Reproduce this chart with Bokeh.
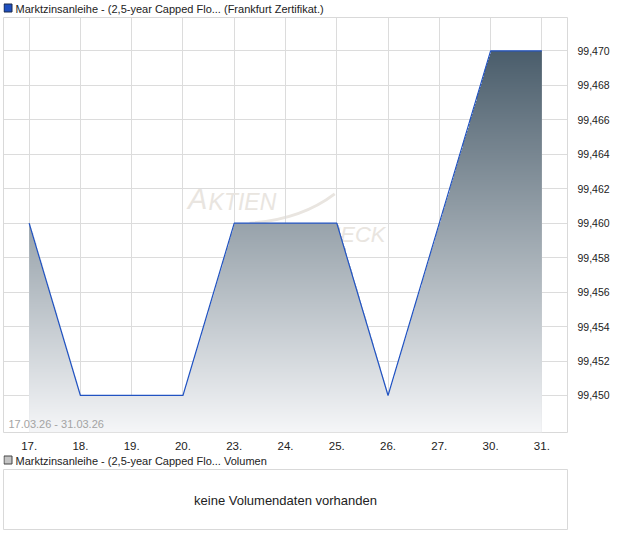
import numpy as np
from bokeh.plotting import figure
from bokeh.layouts import column
from bokeh.models import (FixedTicker, CustomJSTickFormatter, Label, Range1d)
from bokeh.core.properties import value
from bokeh.embed import file_html
from bokeh.resources import INLINE

# ---- data ----
dates = ["17.", "18.", "19.", "20.", "23.", "24.", "25.", "26.", "27.", "30.", "31."]
prices = [99.460, 99.450, 99.450, 99.450, 99.460, 99.460, 99.460, 99.450, 99.460, 99.470, 99.470]
y_ticks = [99.450, 99.452, 99.454, 99.456, 99.458, 99.460, 99.462, 99.464, 99.466, 99.468, 99.470]
title_main = "Marktzinsanleihe - (2,5-year Capped Flo... (Frankfurt Zertifikat.)"
title_vol = "Marktzinsanleihe - (2,5-year Capped Flo... Volumen"
range_text = "17.03.26 - 31.03.26"
no_vol_text = "keine Volumendaten vorhanden"

FONT = "Liberation Sans"
FW, FH = 564, 415
HH = 17
LB, RB = 3, 37
Y0, Y1 = 99.44785, 99.47194

idx = np.arange(len(dates))


def header(text, sq_fill, sq_line):
    h = figure(frame_width=FW, frame_height=HH, min_border_top=0, min_border_bottom=0,
               min_border_left=LB, min_border_right=RB, x_axis_location=None,
               y_axis_location=None, x_range=Range1d(0, FW), y_range=Range1d(HH, 0),
               output_backend="svg", toolbar_location=None)
    h.grid.visible = False
    h.outline_line_color = None
    h.background_fill_color = "white"
    h.border_fill_color = "white"
    h.rect(x=[4.5], y=[7.5], width=8, height=8, fill_color=sq_fill, line_color=sq_line,
           line_width=1)
    h.text(x=[12], y=[8], text=[text], text_font=value(FONT), text_font_size="11px",
           text_baseline="middle", text_color="#222222")
    return h


hm = header(title_main, "#1f4fbf", "#1c2a48")

p = figure(frame_width=FW, frame_height=FH, min_border_top=0, min_border_bottom=20,
           min_border_left=LB, min_border_right=RB, y_axis_location="right",
           x_range=Range1d(-0.5, len(dates) - 0.5), y_range=Range1d(Y0, Y1),
           output_backend="svg", toolbar_location=None)
p.background_fill_color = "white"
p.border_fill_color = "white"
p.outline_line_color = "#d9d9d9"
p.outline_line_width = 1

p.xaxis.ticker = FixedTicker(ticks=list(idx))
p.xaxis.major_label_overrides = {int(i): d for i, d in zip(idx, dates)}
p.yaxis.ticker = FixedTicker(ticks=y_ticks)
p.yaxis.formatter = CustomJSTickFormatter(code="return tick.toFixed(3).replace('.', ',');")
for ax in (p.xaxis[0], p.yaxis[0]):
    ax.axis_line_color = None
    ax.major_tick_line_color = None
    ax.minor_tick_line_color = None
    ax.major_label_text_font = FONT
    ax.major_label_text_color = "#222222"
p.xaxis.major_label_text_font_size = "11.5px"
p.xaxis.major_label_standoff = 3
p.yaxis.major_label_text_font_size = "10.5px"
p.yaxis.major_label_standoff = 4
p.grid.grid_line_color = "#dcdcdc"
p.grid.grid_line_width = 1

# watermark (behind the area)
wm = "#e9e5e0"
p.add_layout(Label(x=3.1, y=99.4605, text="A", text_font=FONT, text_font_style="italic",
                   text_font_size="29px", text_color=wm, level="underlay"))
p.add_layout(Label(x=3.5, y=99.4605, text="KTIEN", text_font=FONT, text_font_style="italic",
                   text_font_size="23px", text_color=wm, level="underlay"))
p.add_layout(Label(x=6.95, y=99.4586, text="CHECK", text_align="right", text_font=FONT,
                   text_font_style="italic", text_font_size="22px", text_color=wm, level="underlay"))
sw = p.quadratic(x0=[4.3], y0=[99.4600], x1=[5.96], y1=[99.4617], cx=[5.3], cy=[99.4602],
                 line_color=wm, line_width=3)
sw.level = "underlay"

# gradient area under the line
nx, ny = 1100, 840
xs = np.linspace(0, len(dates) - 1, nx)
ytop = max(prices)
ys = np.linspace(Y0, ytop, ny)
fx = np.interp(xs, idx, prices)
t = ((ys - Y0) / (ytop - Y0))[:, None]
top_c = np.array([0x4a, 0x5d, 0x6b])
bot_c = np.array([0xf5, 0xf6, 0xf8])
img = np.zeros((ny, nx), dtype=np.uint32)
view = img.view(dtype=np.uint8).reshape((ny, nx, 4))
for k in range(3):
    view[:, :, k] = np.round(bot_c[k] + (top_c[k] - bot_c[k]) * t).astype(np.uint8)
view[:, :, 3] = np.where(ys[:, None] <= fx[None, :], 255, 0).astype(np.uint8)
p.image_rgba(image=[img], x=0, y=Y0, dw=len(dates) - 1, dh=ytop - Y0)

p.line(idx, prices, line_color="#2153c2", line_width=1.2)

p.add_layout(Label(x=5, y=3, x_units="screen", y_units="screen", text=range_text,
                   text_font=FONT, text_font_size="11px", text_color="#a3a3a3"))

hv = header(title_vol, "#c4c4c4", "#444444")

# volume panel
v = figure(frame_width=FW, frame_height=61, min_border_top=0, min_border_bottom=0,
           min_border_left=LB, min_border_right=RB, x_axis_location=None, y_axis_location=None,
           x_range=Range1d(0, 1), y_range=Range1d(0, 1),
           output_backend="svg", toolbar_location=None)
v.grid.visible = False
v.outline_line_color = "#d9d9d9"
v.background_fill_color = "white"
v.border_fill_color = "white"
v.add_layout(Label(x=0.5, y=0.5, text=no_vol_text, text_align="center", text_baseline="middle",
                   text_font=FONT, text_font_size="13px", text_color="#222222"))

layout = column(hm, p, hv, v, spacing=0)
open("out.html", "w").write(file_html(layout, INLINE))
